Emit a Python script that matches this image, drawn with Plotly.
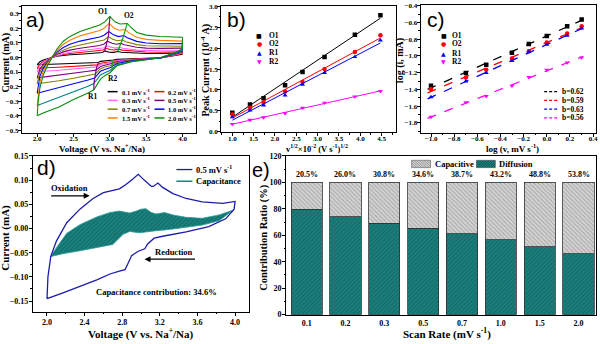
import numpy as np
import plotly.graph_objects as go

W, H = 600, 344
def PX(x): return x / W
def PY(y): return 1 - y / H

SERIF = "Liberation Serif"
SANS = "Liberation Sans"

# ---------------- panel a : CV curves at several scan rates ----------------
rates_a = ["0.1", "0.2", "0.3", "0.5", "0.7", "1.0", "1.5", "2.0"]
colors_a = ["#000000", "#ff0000", "#ff66ff", "#800080", "#808000", "#0000ff", "#ff8000", "#0a8a0a"]
colors_a_lower = ["#000000", "#ff0000", "#ff66ff", "#800080", "#808000", "#0000ff", "#008080", "#0a8a0a"]

cv01_up_v = [2.0, 2.014, 2.037, 2.083, 2.13, 2.2, 2.27, 2.36, 2.45, 2.59, 2.72, 2.86, 2.90, 2.93, 2.99, 3.05, 3.11, 3.16, 3.37, 3.5, 3.69, 3.85, 3.99, 4.0]
cv01_up_i = [-0.05, -0.04, -0.03, -0.018, -0.009, 0.0, 0.008, 0.014, 0.018, 0.022, 0.025, 0.029, 0.034, 0.045, 0.036, 0.035, 0.041, 0.035, 0.028, 0.027, 0.027, 0.028, 0.031, 0.031]
cv01_lo_v = [4.0, 3.995, 3.9, 3.7, 3.5, 3.3, 3.1, 3.046, 3.0, 2.93, 2.87, 2.84, 2.7, 2.5, 2.3, 2.1, 2.0]
cv01_lo_i = [0.031, 0.022, 0.013, -0.002, -0.006, -0.009, -0.013, -0.018, -0.021, -0.024, -0.027, -0.035, -0.037, -0.040, -0.042, -0.045, -0.05]

cv02_up_v = [2.0, 2.014, 2.037, 2.083, 2.13, 2.2, 2.27, 2.36, 2.45, 2.59, 2.72, 2.86, 2.91, 2.94, 3.0, 3.06, 3.12, 3.17, 3.37, 3.5, 3.69, 3.85, 3.99, 4.0]
cv02_up_i = [-0.075, -0.06, -0.045, -0.027, -0.014, 0.0, 0.011, 0.021, 0.027, 0.034, 0.039, 0.044, 0.051, 0.064, 0.054, 0.051, 0.057, 0.05, 0.04, 0.037, 0.036, 0.037, 0.04, 0.04]
cv02_lo_v = [4.0, 3.995, 3.9, 3.7, 3.5, 3.3, 3.1, 3.045, 3.0, 2.93, 2.87, 2.825, 2.7, 2.5, 2.3, 2.1, 2.0]
cv02_lo_i = [0.04, 0.027, 0.016, -0.002, -0.007, -0.011, -0.018, -0.028, -0.031, -0.035, -0.04, -0.051, -0.056, -0.062, -0.067, -0.071, -0.075]

cv03_up_v = [2.0, 2.014, 2.037, 2.083, 2.13, 2.2, 2.27, 2.36, 2.45, 2.59, 2.72, 2.86, 2.92, 2.95, 3.02, 3.07, 3.13, 3.18, 3.37, 3.5, 3.69, 3.85, 3.99, 4.0]
cv03_up_i = [-0.10, -0.08, -0.058, -0.035, -0.018, 0.0, 0.014, 0.027, 0.035, 0.044, 0.05, 0.057, 0.066, 0.08, 0.068, 0.064, 0.07, 0.063, 0.05, 0.046, 0.045, 0.045, 0.047, 0.047]
cv03_lo_v = [4.0, 3.995, 3.9, 3.7, 3.5, 3.3, 3.1, 3.04, 3.0, 2.93, 2.87, 2.82, 2.7, 2.5, 2.3, 2.1, 2.0]
cv03_lo_i = [0.047, 0.03, 0.018, -0.003, -0.008, -0.013, -0.022, -0.032, -0.036, -0.042, -0.048, -0.065, -0.071, -0.08, -0.088, -0.095, -0.10]

cv05_up_v = [2.0, 2.014, 2.037, 2.083, 2.13, 2.2, 2.27, 2.36, 2.45, 2.59, 2.72, 2.86, 2.92, 2.965, 3.03, 3.09, 3.15, 3.2, 3.37, 3.5, 3.69, 3.85, 3.99, 4.0]
cv05_up_i = [-0.14, -0.11, -0.08, -0.047, -0.025, 0.0, 0.02, 0.038, 0.05, 0.063, 0.072, 0.082, 0.092, 0.111, 0.097, 0.09, 0.096, 0.087, 0.07, 0.064, 0.062, 0.062, 0.064, 0.064]
cv05_lo_v = [4.0, 3.995, 3.9, 3.7, 3.5, 3.3, 3.1, 3.035, 3.0, 2.93, 2.87, 2.81, 2.7, 2.5, 2.3, 2.1, 2.0]
cv05_lo_i = [0.064, 0.035, 0.022, -0.003, -0.01, -0.017, -0.028, -0.04, -0.046, -0.053, -0.062, -0.087, -0.095, -0.108, -0.12, -0.13, -0.14]

cv07_up_v = [2.0, 2.014, 2.037, 2.083, 2.13, 2.2, 2.27, 2.36, 2.45, 2.59, 2.72, 2.86, 2.92, 2.98, 3.04, 3.1, 3.17, 3.22, 3.37, 3.5, 3.69, 3.85, 3.99, 4.0]
cv07_up_i = [-0.18, -0.14, -0.10, -0.058, -0.03, 0.0, 0.026, 0.05, 0.068, 0.085, 0.097, 0.11, 0.12, 0.143, 0.125, 0.114, 0.119, 0.108, 0.088, 0.08, 0.077, 0.076, 0.077, 0.077]
cv07_lo_v = [4.0, 3.995, 3.9, 3.7, 3.5, 3.3, 3.1, 3.03, 3.0, 2.93, 2.87, 2.8, 2.7, 2.5, 2.3, 2.1, 2.0]
cv07_lo_i = [0.077, 0.04, 0.025, -0.003, -0.012, -0.02, -0.035, -0.05, -0.057, -0.066, -0.077, -0.113, -0.124, -0.143, -0.16, -0.173, -0.18]

cv10_up_v = [2.0, 2.014, 2.037, 2.083, 2.13, 2.2, 2.27, 2.36, 2.45, 2.59, 2.72, 2.86, 2.92, 2.985, 3.05, 3.12, 3.19, 3.24, 3.37, 3.5, 3.69, 3.85, 3.99, 4.0]
cv10_up_i = [-0.245, -0.19, -0.13, -0.075, -0.04, 0.0, 0.035, 0.068, 0.09, 0.112, 0.125, 0.14, 0.152, 0.178, 0.155, 0.143, 0.15, 0.135, 0.11, 0.099, 0.094, 0.092, 0.095, 0.095]
cv10_lo_v = [4.0, 3.995, 3.9, 3.7, 3.5, 3.3, 3.1, 3.03, 3.0, 2.93, 2.87, 2.79, 2.7, 2.5, 2.3, 2.1, 2.0]
cv10_lo_i = [0.095, 0.045, 0.028, -0.003, -0.013, -0.023, -0.042, -0.06, -0.07, -0.082, -0.095, -0.141, -0.155, -0.18, -0.205, -0.228, -0.245]

cv15_up_v = [2.0, 2.014, 2.037, 2.083, 2.13, 2.2, 2.27, 2.36, 2.45, 2.59, 2.72, 2.86, 2.92, 2.99, 3.06, 3.13, 3.21, 3.26, 3.37, 3.5, 3.69, 3.85, 3.99, 4.0]
cv15_up_i = [-0.33, -0.25, -0.17, -0.095, -0.05, 0.0, 0.045, 0.09, 0.118, 0.148, 0.165, 0.185, 0.20, 0.233, 0.20, 0.186, 0.191, 0.17, 0.138, 0.124, 0.117, 0.114, 0.112, 0.112]
cv15_lo_v = [4.0, 3.995, 3.9, 3.7, 3.5, 3.3, 3.1, 3.03, 3.0, 2.93, 2.87, 2.78, 2.7, 2.5, 2.3, 2.1, 2.0]
cv15_lo_i = [0.112, 0.05, 0.03, -0.002, -0.015, -0.027, -0.05, -0.075, -0.09, -0.105, -0.12, -0.179, -0.198, -0.235, -0.275, -0.31, -0.33]

cv20_up_v = [2.0, 2.014, 2.037, 2.083, 2.13, 2.2, 2.27, 2.36, 2.45, 2.59, 2.72, 2.86, 2.93, 3.0, 3.07, 3.14, 3.24, 3.28, 3.37, 3.5, 3.69, 3.85, 3.99, 4.0]
cv20_up_i = [-0.40, -0.30, -0.21, -0.122, -0.067, 0.0, 0.056, 0.111, 0.144, 0.178, 0.20, 0.222, 0.244, 0.281, 0.244, 0.229, 0.233, 0.211, 0.171, 0.153, 0.144, 0.141, 0.138, 0.138]
cv20_lo_v = [4.0, 3.995, 3.9, 3.7, 3.5, 3.3, 3.1, 3.03, 3.0, 2.93, 2.87, 2.78, 2.7, 2.5, 2.3, 2.1, 2.0]
cv20_lo_i = [0.138, 0.06, 0.033, 0.0, -0.016, -0.029, -0.056, -0.089, -0.105, -0.125, -0.149, -0.222, -0.244, -0.289, -0.34, -0.378, -0.40]

# peak guide lines in panel a
o1_v = [2.93, 2.94, 2.95, 2.965, 2.98, 2.985, 2.99, 3.0]
o1_i = [0.045, 0.064, 0.08, 0.111, 0.143, 0.178, 0.233, 0.281]
o2_v = [3.11, 3.12, 3.13, 3.15, 3.17, 3.19, 3.21, 3.24]
o2_i = [0.041, 0.057, 0.07, 0.096, 0.119, 0.15, 0.191, 0.233]
r1_v = [2.84, 2.825, 2.82, 2.81, 2.8, 2.79, 2.78, 2.78]
r1_i = [-0.035, -0.051, -0.065, -0.087, -0.113, -0.141, -0.179, -0.222]
r2_v = [3.046, 3.045, 3.04, 3.035, 3.03, 3.03, 3.03, 3.03]
r2_i = [-0.018, -0.028, -0.032, -0.04, -0.05, -0.06, -0.075, -0.089]

# ---------------- panel b : peak current vs sqrt(v) ----------------
sqrt_v = [1.0, 1.414, 1.732, 2.236, 2.646, 3.162, 3.873, 4.472]
b_O1 = [0.45, 0.65, 0.80, 1.11, 1.43, 1.79, 2.32, 2.79]
b_O2 = [0.41, 0.57, 0.70, 0.96, 1.19, 1.50, 1.91, 2.31]
b_R1 = [0.35, 0.51, 0.63, 0.87, 1.13, 1.41, 1.79, 2.19]
b_R2 = [0.18, 0.28, 0.34, 0.44, 0.57, 0.69, 0.84, 0.97]

# ---------------- panel c : log i vs log v ----------------
log_v = [-1.0, -0.699, -0.523, -0.301, -0.155, 0.0, 0.176, 0.301]
c_O1 = [-1.358, -1.203, -1.106, -0.962, -0.857, -0.761, -0.644, -0.563]
c_O2 = [-1.397, -1.257, -1.164, -1.032, -0.943, -0.838, -0.730, -0.644]
c_R1 = [-1.493, -1.303, -1.203, -1.059, -0.951, -0.865, -0.757, -0.671]
c_R2 = [-1.730, -1.555, -1.482, -1.358, -1.253, -1.168, -1.079, -1.020]
b_values = ["0.62", "0.59", "0.63", "0.56"]

series_names = ["O1", "O2", "R1", "R2"]
series_colors = ["#000000", "#ff0000", "#0000ff", "#ff00ff"]
series_symbols = ["square", "circle", "triangle-up", "triangle-down"]
series_glyphs = ["\u25a0", "\u25cf", "\u25b2", "\u25bc"]

# ---------------- panel d : CV at 0.5 mV/s with capacitive part ----------------
d_up_v = [2.0, 2.01, 2.04, 2.07, 2.10, 2.21, 2.35, 2.49, 2.60, 2.77, 2.84, 2.91, 2.97, 3.04, 3.11, 3.13, 3.18, 3.23, 3.34, 3.48, 3.65, 3.87, 4.0]
d_up_i = [-0.145, -0.10, -0.058, -0.042, -0.026, 0.012, 0.040, 0.062, 0.074, 0.082, 0.091, 0.102, 0.112, 0.099, 0.087, 0.087, 0.094, 0.085, 0.072, 0.062, 0.055, 0.052, 0.056]
d_lo_v = [4.0, 3.99, 3.90, 3.72, 3.48, 3.23, 3.14, 3.07, 3.04, 2.97, 2.90, 2.86, 2.83, 2.77, 2.67, 2.53, 2.35, 2.17, 2.0]
d_lo_i = [0.056, 0.040, 0.020, 0.004, -0.007, -0.016, -0.020, -0.032, -0.042, -0.047, -0.056, -0.073, -0.085, -0.088, -0.094, -0.106, -0.120, -0.133, -0.145]
cap_up_v = [2.04, 2.10, 2.21, 2.35, 2.53, 2.67, 2.77, 2.88, 2.95, 3.00, 3.05, 3.11, 3.16, 3.25, 3.34, 3.48, 3.65, 3.83, 3.98]
cap_up_i = [-0.058, -0.040, -0.010, 0.008, 0.024, 0.033, 0.036, 0.032, 0.036, 0.040, 0.041, 0.033, 0.030, 0.033, 0.028, 0.023, 0.021, 0.028, 0.038]
cap_lo_v = [3.98, 3.83, 3.65, 3.48, 3.30, 3.14, 2.98, 2.88, 2.81, 2.70, 2.53, 2.35, 2.17, 2.04]
cap_lo_i = [0.038, 0.016, 0.007, 0.002, -0.002, -0.005, -0.009, -0.006, -0.012, -0.033, -0.040, -0.046, -0.052, -0.058]

# ---------------- panel e : contribution ratio ----------------
scan_rates = ["0.1", "0.2", "0.3", "0.5", "0.7", "1.0", "1.5", "2.0"]
capacitive_pct = [20.5, 26.0, 30.8, 34.6, 38.7, 43.2, 48.8, 53.8]
diffusion_pct = [79.5, 74.0, 69.2, 65.4, 61.3, 56.8, 51.2, 46.2]

CAP_BG, CAP_FG = "#d4d4d4", "#7a7a7a"
DIF_BG, DIF_FG = "#1a7f7c", "#0b4a48"

fig = go.Figure()

# --- a traces
cv_sets = [
    (cv01_up_v, cv01_up_i, cv01_lo_v, cv01_lo_i),
    (cv02_up_v, cv02_up_i, cv02_lo_v, cv02_lo_i),
    (cv03_up_v, cv03_up_i, cv03_lo_v, cv03_lo_i),
    (cv05_up_v, cv05_up_i, cv05_lo_v, cv05_lo_i),
    (cv07_up_v, cv07_up_i, cv07_lo_v, cv07_lo_i),
    (cv10_up_v, cv10_up_i, cv10_lo_v, cv10_lo_i),
    (cv15_up_v, cv15_up_i, cv15_lo_v, cv15_lo_i),
    (cv20_up_v, cv20_up_i, cv20_lo_v, cv20_lo_i),
]
for k, (uv, ui, lv, li) in enumerate(cv_sets):
    fig.add_trace(go.Scatter(x=uv, y=ui, mode="lines", line=dict(color=colors_a[k], width=1.1),
                             xaxis="x", yaxis="y", showlegend=False, hoverinfo="skip"))
    fig.add_trace(go.Scatter(x=lv, y=li, mode="lines", line=dict(color=colors_a_lower[k], width=1.1),
                             xaxis="x", yaxis="y", showlegend=False, hoverinfo="skip"))
for gv, gi, gc in [(o1_v, o1_i, "#8b008b"), (o2_v, o2_i, "#1aa01a"), (r1_v, r1_i, "#8b008b"), (r2_v, r2_i, "#1aa01a")]:
    fig.add_trace(go.Scatter(x=gv, y=gi, mode="lines", line=dict(color=gc, width=1.2),
                             xaxis="x", yaxis="y", showlegend=False, hoverinfo="skip"))

# --- b traces
for ys, col, sym in zip([b_O1, b_O2, b_R1, b_R2], series_colors, series_symbols):
    p = np.polyfit(sqrt_v, ys, 1)
    xf = np.array([sqrt_v[0], sqrt_v[-1]])
    fig.add_trace(go.Scatter(x=xf, y=np.polyval(p, xf), mode="lines", line=dict(color=col, width=1),
                             xaxis="x2", yaxis="y2", showlegend=False, hoverinfo="skip"))
    fig.add_trace(go.Scatter(x=sqrt_v, y=ys, mode="markers", marker=dict(color=col, symbol=sym, size=4.5),
                             xaxis="x2", yaxis="y2", showlegend=False, hoverinfo="skip"))

# --- c traces
for ys, col, sym in zip([c_O1, c_O2, c_R1, c_R2], series_colors, series_symbols):
    p = np.polyfit(log_v, ys, 1)
    xf = np.array([log_v[0] - 0.03, log_v[-1] + 0.01])
    fig.add_trace(go.Scatter(x=xf, y=np.polyval(p, xf), mode="lines", line=dict(color=col, width=1.3, dash="dash"),
                             xaxis="x3", yaxis="y3", showlegend=False, hoverinfo="skip"))
    fig.add_trace(go.Scatter(x=log_v, y=ys, mode="markers", marker=dict(color=col, symbol=sym, size=4.5),
                             xaxis="x3", yaxis="y3", showlegend=False, hoverinfo="skip"))

# --- d traces
fig.add_trace(go.Scatter(x=cap_up_v + cap_lo_v, y=cap_up_i + cap_lo_i, mode="lines", fill="toself",
                         fillcolor="#167a78", line=dict(color="#2a9a95", width=0.8),
                         fillpattern=dict(shape="/", fgcolor="#0a4a48", bgcolor="#1a8480", size=3, solidity=0.35, fillmode="overlay"),
                         xaxis="x4", yaxis="y4", showlegend=False, hoverinfo="skip"))
fig.add_trace(go.Scatter(x=d_up_v + d_lo_v, y=d_up_i + d_lo_i, mode="lines", line=dict(color="#1c1ca8", width=1.3),
                         xaxis="x4", yaxis="y4", showlegend=False, hoverinfo="skip"))

# --- e traces
fig.add_trace(go.Bar(x=scan_rates, y=diffusion_pct, name="Diffusion", width=0.8,
                     marker=dict(color=DIF_BG, line=dict(color="#333333", width=0.8),
                                 pattern=dict(shape="/", fgcolor=DIF_FG, bgcolor=DIF_BG, size=3, solidity=0.3, fillmode="overlay")),
                     xaxis="x5", yaxis="y5", showlegend=False, hoverinfo="skip"))
fig.add_trace(go.Bar(x=scan_rates, y=capacitive_pct, name="Capacitive", width=0.8,
                     marker=dict(color=CAP_BG, line=dict(color="#333333", width=0.8),
                                 pattern=dict(shape="\\", fgcolor=CAP_FG, bgcolor=CAP_BG, size=3, solidity=0.35, fillmode="overlay")),
                     xaxis="x5", yaxis="y5", showlegend=False, hoverinfo="skip"))

def axis(domain, rng, dtick, minor, anchor, size, fmt=None, tick0=0, standoff=-3):
    d = dict(domain=domain, range=rng, dtick=dtick, tick0=tick0, showline=True, linecolor="black", linewidth=1,
             mirror=True, ticks="outside", ticklen=3, tickwidth=1, tickcolor="black",
             showgrid=False, zeroline=False, anchor=anchor, ticklabelstandoff=standoff,
             tickfont=dict(family=SERIF, size=size, color="black", weight="bold"))
    if minor:
        d["minor"] = dict(ticks="outside", ticklen=1.5, dtick=minor, tickcolor="black", tickwidth=1, showgrid=False)
    if fmt:
        d["tickformat"] = fmt
    return d

layout = dict(
    width=W, height=H, margin=dict(l=0, r=0, t=0, b=0),
    paper_bgcolor="white", plot_bgcolor="white", barmode="stack", showlegend=False,
    xaxis=axis([PX(22), PX(197)], [1.79, 4.19], 0.5, 0.25, "y", 7, ".1f", standoff=-4),
    yaxis=axis([PY(132), PY(2)], [-0.515, 0.353], 0.1, 0.05, "x", 7, ".1f", standoff=-2),
    xaxis2=axis([PX(222), PX(397)], [0.74, 4.83], 0.5, 0.25, "y2", 7, ".1f", tick0=1.0, standoff=-4),
    yaxis2=axis([PY(131.7), PY(1.7)], [-0.015, 3.02], 0.5, 0.25, "x2", 7, ".1f", standoff=-2),
    xaxis3=axis([PX(422), PX(598)], [-1.09, 0.425], 0.2, 0.1, "y3", 7, ".1f", standoff=-4),
    yaxis3=axis([PY(132), PY(1)], [-1.917, -0.39], 0.2, 0.1, "x3", 7, ".1f", standoff=-2),
    xaxis4=axis([PX(33), PX(250)], [1.85, 4.15], 0.4, 0.2, "y4", 8, ".1f", tick0=2.0, standoff=0),
    yaxis4=axis([PY(316), PY(156)], [-0.172, 0.15], 0.05, 0.025, "x4", 8, ".2f", standoff=-1),
    xaxis5=dict(domain=[PX(287), PX(598)], range=[-0.53, 7.45], type="category", showline=True, linecolor="black",
                linewidth=1, mirror=True, ticks="", showgrid=False, zeroline=False, anchor="y5", ticklabelstandoff=1,
                tickfont=dict(family=SERIF, size=8, color="black", weight="bold")),
    yaxis5=axis([PY(319), PY(156)], [0, 120], 20, 10, "x5", 8, standoff=-1),
)
fig.update_layout(**layout)

ann = []
shapes = []
def txt(x, y, t, size=8, anchor="center", color="black", family=SERIF, angle=0, weight="bold"):
    ann.append(dict(x=PX(x), y=PY(y), xref="paper", yref="paper", text=t, showarrow=False,
                    xanchor=anchor, yanchor="middle", textangle=angle,
                    font=dict(family=family, size=size, color=color, weight=weight)))

def hatch_swatch(x0, y0, x1, y1, bg, fg, rising, step=2.5):
    # legend swatch: filled rectangle plus diagonal hatch strokes (pixel coords -> paper)
    shapes.append(dict(type="rect", xref="paper", yref="paper", x0=PX(x0), x1=PX(x1), y0=PY(y1), y1=PY(y0),
                       fillcolor=bg, line=dict(color="#555555", width=0.6)))
    segs = []
    c = (x0 + y0) if rising else (x0 - y1)
    cmax = (x1 + y1) if rising else (x1 - y0)
    while c <= cmax:
        if rising:
            pa, pb = max(x0, c - y1), min(x1, c - y0)
            if pa < pb:
                segs.append(f"M{PX(pa):.5f},{PY(c - pa):.5f}L{PX(pb):.5f},{PY(c - pb):.5f}")
        else:
            pa, pb = max(x0, c + y0), min(x1, c + y1)
            if pa < pb:
                segs.append(f"M{PX(pa):.5f},{PY(pa - c):.5f}L{PX(pb):.5f},{PY(pb - c):.5f}")
        c += step
    shapes.append(dict(type="path", xref="paper", yref="paper", path="".join(segs),
                       line=dict(color=fg, width=0.7)))

# panel labels
txt(36, 16, "a)", 21, family=SANS, weight="normal")
txt(237, 16, "b)", 21, family=SANS, weight="normal")
txt(437, 16, "c)", 21, family=SANS, weight="normal")
txt(47, 168, "d)", 21, family=SANS, weight="normal")
txt(262, 170, "e)", 20, family=SANS, weight="normal")

# axis titles
txt(102, 148, "Voltage (V vs. Na<sup>+</sup>/Na)", 9)
txt(6, 60, "Current (mA)", 10, angle=-90)
txt(318, 148.5, "v<sup>1/2</sup>×10<sup>-2</sup> (V s<sup>-1</sup>)<sup>1/2</sup>", 8.5)
txt(206, 68, "Peak Current (10<sup>-4</sup> A)", 10, angle=-90)
txt(514, 148, "log (v, mV s<sup>-1</sup>)", 9)
txt(402, 58, "log (i, mA)", 10, angle=-90)
txt(141, 338, "Voltage (V vs. Na<sup>+</sup>/Na)", 11)
txt(6, 240, "Current (mA)", 11, angle=-90)
txt(448, 338, "Scan Rate (mV s<sup>-1</sup>)", 11)
txt(265, 240, "Contribution Ratio (%)", 10.5, angle=-90)

# panel a annotations and legend
txt(103, 8, "O1", 7.5)
txt(129, 12, "O2", 7.5)
txt(93, 95, "R1", 7.5)
txt(113, 77, "R2", 7.5)
rows_a = [90, 99, 108, 117]
for k, r in enumerate(rates_a):
    row, col = k // 2, k % 2
    x0 = [108, 155][col]
    y = rows_a[row]
    shapes.append(dict(type="line", xref="paper", yref="paper", x0=PX(x0), x1=PX(x0 + 10), y0=PY(y), y1=PY(y),
                       line=dict(color=colors_a[k], width=1.5)))
    txt(x0 + 12, y, f"{r} mV s<sup>-1</sup>", 6.5, anchor="left")

# panel b legend
rows_b = [32, 41, 50, 59]
for k in range(4):
    txt(260, rows_b[k], series_glyphs[k], 6, color=series_colors[k], family="DejaVu Sans", weight="normal")
    txt(268, rows_b[k], series_names[k], 7.5, anchor="left")

# panel c legends
rows_c = [32, 41, 51, 59]
for k in range(4):
    txt(445, rows_c[k], series_glyphs[k], 6, color=series_colors[k], family="DejaVu Sans", weight="normal")
    txt(452, rows_c[k], series_names[k], 7.5, anchor="left")
rows_c2 = [90, 99, 108, 117]
for k in range(4):
    shapes.append(dict(type="line", xref="paper", yref="paper", x0=PX(546), x1=PX(559), y0=PY(rows_c2[k]), y1=PY(rows_c2[k]),
                       line=dict(color=series_colors[k], width=1.3, dash="3px,2px")))
    txt(562, rows_c2[k], f"b={b_values[k]}", 7.5, anchor="left")

# panel d legend & annotations
shapes.append(dict(type="line", xref="paper", yref="paper", x0=PX(177), x1=PX(193), y0=PY(170), y1=PY(170),
                   line=dict(color="#1c1ca8", width=1.3)))
txt(195, 170, "0.5 mV s<sup>-1</sup>", 8.5, anchor="left")
shapes.append(dict(type="line", xref="paper", yref="paper", x0=PX(177), x1=PX(193), y0=PY(182), y1=PY(182),
                   line=dict(color="#1a8480", width=1.5)))
txt(195, 182, "Capacitance", 8.5, anchor="left")
txt(70, 189, "Oxidation", 8.5)
txt(175, 255, "Reduction", 8.5)
txt(157, 296, "Capacitance contribution: 34.6%", 8.5)
ann.append(dict(x=PX(90), y=PY(197), xref="paper", yref="paper", ax=-40, ay=0, text="", showarrow=True,
                arrowhead=2, arrowsize=1, arrowwidth=1.2, arrowcolor="black"))
ann.append(dict(x=PX(145), y=PY(262), xref="paper", yref="paper", ax=52, ay=0, text="", showarrow=True,
                arrowhead=2, arrowsize=1, arrowwidth=1.2, arrowcolor="black"))

# panel e legend (hatched swatches) and percentage labels
hatch_swatch(413, 160.5, 432, 168, CAP_BG, CAP_FG, rising=False)
txt(434, 164, "Capacitive", 8.5, anchor="left")
hatch_swatch(478, 160.5, 497, 168, DIF_BG, DIF_FG, rising=True)
txt(499, 164, "Diffusion", 8.5, anchor="left")
for k, c in enumerate(capacitive_pct):
    ann.append(dict(x=k, y=100, xref="x5", yref="y5", text=f"{c:.1f}%", showarrow=False, yanchor="bottom",
                    yshift=1, font=dict(family=SERIF, size=8, color="black", weight="bold")))

fig.update_layout(annotations=ann, shapes=shapes)
fig.write_html("out.html")
